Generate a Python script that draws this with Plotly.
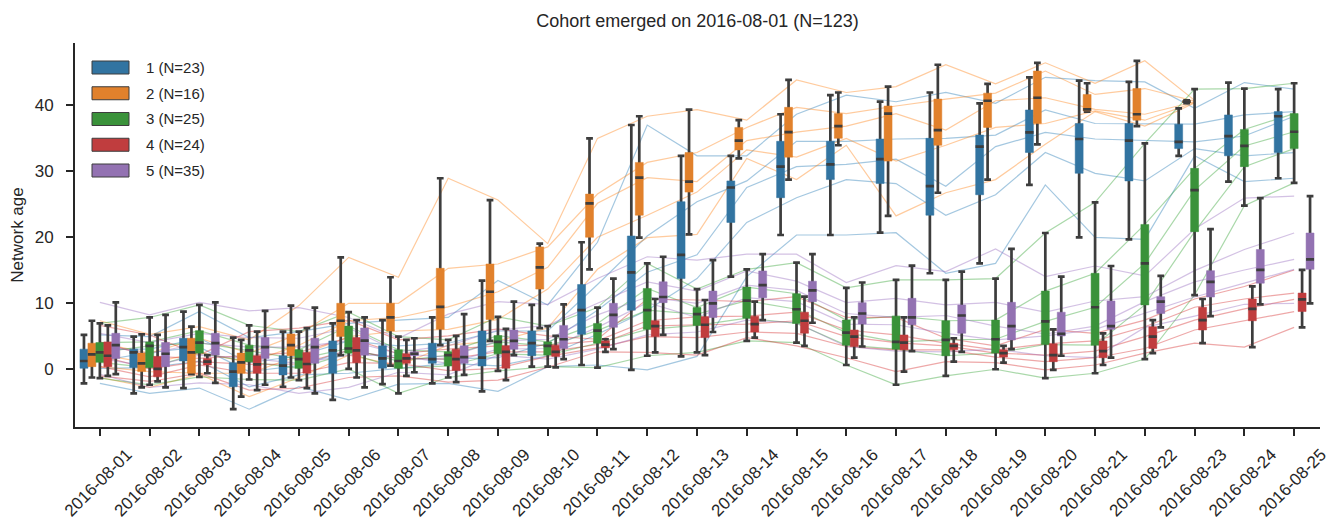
import plotly.graph_objects as go

# ---------------- data ----------------
dates = ["2016-08-01", "2016-08-02", "2016-08-03", "2016-08-04", "2016-08-05",
         "2016-08-06", "2016-08-07", "2016-08-08", "2016-08-09", "2016-08-10",
         "2016-08-11", "2016-08-12", "2016-08-13", "2016-08-14", "2016-08-15",
         "2016-08-16", "2016-08-17", "2016-08-18", "2016-08-19", "2016-08-20",
         "2016-08-21", "2016-08-22", "2016-08-23", "2016-08-24", "2016-08-25"]

group_names = ["1 (N=23)", "2 (N=16)", "3 (N=25)", "4 (N=24)", "5 (N=35)"]

# group 1
g1_low = [-2.2, -3.7, -2.9, -6.1, -2.7, -4.7, -2.3, -2.2, -3.4, 0.35, 0.6, -0.15, 1.9, 14.0, 20.3, 20.3, 20.65, 14.5, 16.0, 27.9, 19.95, 19.65, 32.3, 28.4, 28.9]
g1_q1 = [0.1, 0.2, 1.2, -2.7, -0.9, -0.65, 0.1, 0.85, 0.45, 2.0, 5.25, 8.9, 13.7, 22.2, 25.95, 28.7, 28.1, 23.3, 26.4, 32.8, 29.65, 28.5, 33.4, 32.3, 32.8]
g1_med = [1.2, 2.5, 3.3, -0.4, 0.5, 2.8, 1.6, 1.5, 1.7, 3.9, 8.9, 14.65, 17.3, 27.5, 30.65, 31.0, 31.8, 27.7, 33.7, 35.85, 34.85, 34.6, 34.4, 35.3, 38.3]
g1_q3 = [3.0, 3.0, 4.65, 0.95, 2.0, 4.25, 3.5, 3.9, 5.75, 5.75, 12.8, 20.15, 25.35, 28.5, 34.5, 34.5, 34.85, 34.95, 35.45, 39.25, 37.2, 37.2, 37.1, 38.5, 39.0]
g1_high = [5.15, 4.9, 8.7, 4.75, 5.65, 6.9, 7.4, 7.8, 13.4, 9.7, 19.2, 36.97, 32.3, 32.3, 38.6, 41.5, 40.5, 41.9, 40.25, 44.2, 43.7, 43.5, 39.5, 43.4, 42.4]

# group 2
g2_low = [-1.3, -2.8, -0.8, -4.2, -1.3, 2.1, 0.5, 3.6, 4.25, 6.2, 15.1, 19.9, 20.4, 31.9, 28.7, 33.9, 23.2, 26.7, 28.7, 34.05, 39.0, 36.8, 40.3, None, None]
g2_q1 = [0.35, -0.4, -0.65, -0.65, 2.0, 4.9, 5.75, 6.0, 7.5, 12.1, 19.95, 23.3, 26.8, 33.2, 32.1, 34.95, 31.5, 33.9, 36.6, 37.2, 39.1, 37.7, 40.4, None, None]
g2_med = [2.2, 0.85, 2.5, 1.0, 3.6, 7.3, 7.8, 9.4, 11.7, 15.4, 25.1, 29.0, 28.4, 34.6, 35.9, 36.8, 38.7, 36.2, 40.65, 41.1, 39.35, 38.6, 40.5, None, None]
g2_q3 = [3.9, 2.4, 4.65, 2.4, 5.3, 9.95, 9.95, 15.25, 15.9, 18.5, 26.5, 31.3, 32.8, 36.6, 39.65, 38.7, 39.85, 40.9, 41.8, 45.15, 41.6, 42.5, 40.6, None, None]
g2_high = [7.3, 5.25, 6.4, 4.4, 9.6, 16.9, 13.9, 28.9, 25.6, 19.0, 34.95, 38.3, 39.3, 37.7, 43.8, 41.9, 42.8, 46.1, 43.2, 46.4, 43.3, 46.7, 40.7, None, None]

# group 3
g3_low = [-1.4, -2.4, -1.2, -1.6, -1.7, 0.0, -3.7, -1.3, -0.3, 0.35, 0.2, 2.0, 2.5, 4.25, 4.0, 0.6, -2.4, -1.06, -0.05, -1.4, -0.65, 1.5, 11.2, 24.75, 28.2]
g3_q1 = [1.0, 0.2, 2.4, 1.1, 0.1, 2.4, 0.1, 0.45, 2.3, 2.1, 3.9, 6.0, 6.6, 7.7, 6.9, 3.6, 3.0, 2.0, 2.4, 3.7, 3.6, 9.7, 20.8, 30.65, 33.4]
g3_med = [2.5, 3.5, 4.0, 2.8, 1.5, 3.1, 1.2, 2.1, 4.1, 3.5, 5.8, 8.9, 8.3, 10.35, 9.05, 5.5, 4.1, 4.4, 4.5, 7.2, 9.35, 16.0, 27.1, 33.8, 35.95]
g3_q3 = [4.0, 4.1, 5.8, 3.6, 2.9, 6.5, 2.9, 2.6, 5.05, 4.1, 6.9, 12.2, 9.3, 12.4, 11.4, 7.4, 8.0, 7.3, 7.4, 11.8, 14.5, 21.9, 30.4, 36.3, 38.7]
g3_high = [6.9, 7.8, 9.7, 6.6, 5.65, 8.6, 4.9, 4.4, 7.9, 6.5, 9.3, 16.0, 12.1, 15.1, 16.1, 12.3, 13.5, 13.5, 13.7, 20.6, 25.25, 34.2, 42.4, 42.5, 43.3]

# group 4
g4_low = [-1.06, -1.9, -0.65, -3.2, -2.9, -1.3, -1.06, -2.0, -1.7, 0.25, 2.6, 2.5, 2.1, 4.75, 3.5, 1.7, -0.4, 1.1, 0.95, -0.15, 0.6, 2.4, 3.9, 3.3, 6.3]
g4_q1 = [0.35, -1.2, 0.6, -0.65, -0.65, 0.95, 0.85, -0.25, 0.1, 1.9, 3.2, 4.9, 4.75, 5.6, 5.4, 3.4, 2.9, 2.9, 1.8, 1.1, 1.7, 3.1, 5.9, 7.3, 8.7]
g4_med = [2.0, 0.0, 1.1, 0.7, 0.75, 2.8, 1.6, 1.5, 2.6, 2.6, 3.7, 6.5, 6.7, 6.8, 7.3, 4.9, 4.0, 3.5, 2.4, 2.1, 2.7, 4.9, 7.4, 9.1, 10.55]
g4_q3 = [4.1, 1.9, 1.6, 2.0, 2.5, 4.75, 2.3, 3.0, 3.5, 3.6, 4.25, 7.3, 7.9, 8.0, 8.6, 5.9, 5.15, 3.9, 2.9, 3.8, 4.25, 6.4, 9.35, 10.6, 11.5]
g4_high = [6.6, 5.15, 2.1, 5.65, 6.2, 7.4, 4.4, 5.0, 6.06, 5.0, 4.5, 10.6, 10.45, 10.2, 10.95, 7.8, 7.8, 4.65, 3.5, 6.0, 5.4, 7.4, 10.6, 12.5, 15.0]

# group 5
g5_low = [-0.8, -2.8, -2.1, -2.4, -3.7, -2.8, -0.5, -0.9, 2.1, 1.5, 3.0, 5.15, 5.6, 7.4, 7.0, 3.4, 2.7, 2.6, 3.0, 2.0, 1.7, 6.3, 8.0, 9.8, 9.95]
g5_q1 = [1.6, 0.35, 2.1, 1.6, 0.85, 2.1, 2.0, 0.85, 3.0, 3.1, 6.3, 10.05, 7.8, 10.8, 10.2, 6.8, 6.7, 5.4, 4.4, 5.0, 6.0, 8.4, 10.9, 13.0, 15.1]
g5_med = [3.6, 2.3, 3.9, 3.3, 3.3, 4.3, 2.3, 1.8, 4.25, 4.5, 8.2, 10.9, 9.95, 12.7, 11.9, 8.4, 7.8, 8.1, 6.5, 5.3, 6.5, 10.2, 13.2, 15.0, 16.6]
g5_q3 = [5.4, 4.0, 5.4, 4.75, 4.65, 6.2, 2.6, 3.5, 5.9, 6.6, 9.95, 13.2, 11.8, 14.85, 13.3, 10.05, 10.7, 9.7, 10.1, 8.6, 10.3, 10.95, 14.9, 18.1, 20.6]
g5_high = [10.1, 8.2, 10.1, 8.8, 9.3, 7.8, 4.65, 8.3, 10.2, 9.8, 13.7, 17.0, 16.5, 17.4, 17.4, 13.1, 15.65, 14.75, 18.2, 14.0, 15.6, 14.1, 21.2, 25.9, 26.2]

groups = [
    (g1_low, g1_q1, g1_med, g1_q3, g1_high),
    (g2_low, g2_q1, g2_med, g2_q3, g2_high),
    (g3_low, g3_q1, g3_med, g3_q3, g3_high),
    (g4_low, g4_q1, g4_med, g4_q3, g4_high),
    (g5_low, g5_q1, g5_med, g5_q3, g5_high),
]

# ---------------- style ----------------
box_colors = ["#3274a1", "#e1812c", "#3a923a", "#c03d3e", "#9372b2"]
line_colors = ["#1f77b4", "#ff7f0e", "#2ca02c", "#d62728", "#9467bd"]
DARK = "#3d3d3d"
TEXT = "#262626"
FONT = "Liberation Sans, Arial, sans-serif"

# the page body adds an 8 px offset; size the figure so it fills the window
OFF = 8
W, H = 1343 - OFF, 525 - OFF
L, R, T, B = 75 - OFF, 23, 43 - OFF, 98
YR = [-8.8, 49.4]
XR = [-0.5, 24.52]

fig = go.Figure()

# background trajectories (drawn on base axes, below the boxes)
for k, stats in enumerate(groups):
    for s in stats:
        fig.add_trace(go.Scatter(
            x=dates, y=s, mode="lines",
            line=dict(color=line_colors[k], width=1.2),
            opacity=0.4, showlegend=False, hoverinfo="skip",
            xaxis="x", yaxis="y"))

# boxes (on overlaid axes so they sit above the lines)
for k, (lo, a, m, b, hi) in enumerate(groups):
    idx = [i for i in range(len(dates)) if m[i] is not None]
    xs = [dates[i] for i in idx]
    lo_ = [lo[i] for i in idx]
    a_ = [a[i] for i in idx]
    m_ = [m[i] for i in idx]
    b_ = [b[i] for i in idx]
    hi_ = [hi[i] for i in idx]
    common = dict(x=xs, xaxis="x2", yaxis="y2", offsetgroup=str(k),
                  alignmentgroup="g", showlegend=False, hoverinfo="skip",
                  boxpoints=False)
    # whiskers + caps
    fig.add_trace(go.Box(q1=m_, median=m_, q3=m_, lowerfence=lo_, upperfence=hi_,
                         line=dict(color=DARK, width=2.7), fillcolor=DARK,
                         whiskerwidth=0.85, **common))
    # coloured box body
    fig.add_trace(go.Box(q1=a_, median=a_, q3=b_, lowerfence=a_, upperfence=b_,
                         line=dict(color=box_colors[k], width=0.5),
                         fillcolor=box_colors[k], whiskerwidth=0, **common))
    # median bar
    fig.add_trace(go.Box(q1=m_, median=m_, q3=m_, lowerfence=m_, upperfence=m_,
                         line=dict(color=DARK, width=2.7), fillcolor=DARK,
                         whiskerwidth=0, **common))

# manual legend (wide patches like the reference); positions in window pixels
pw = W - L - R
ph = H - T - B
def px_x(v):
    return (v - OFF - L) / pw
def px_y(v):
    return (H - B - (v - OFF)) / ph

LEG_X0, LEG_X1, LEG_TX = 92, 129, 144
LEG_Y0, LEG_DY, LEG_H = 67.5, 25.75, 13
shapes, annotations = [], []
for k, name in enumerate(group_names):
    cy = LEG_Y0 + k * LEG_DY
    shapes.append(dict(type="rect", xref="paper", yref="paper",
                       x0=px_x(LEG_X0), x1=px_x(LEG_X1),
                       y0=px_y(cy + LEG_H / 2), y1=px_y(cy - LEG_H / 2),
                       fillcolor=box_colors[k], line=dict(color=DARK, width=1)))
    annotations.append(dict(text=name, xref="paper", yref="paper",
                            x=px_x(LEG_TX), y=px_y(cy), xanchor="left", yanchor="middle",
                            showarrow=False, font=dict(size=15, color=TEXT, family=FONT)))

axis_common = dict(showline=True, linecolor=TEXT, linewidth=2, ticks="outside",
                   ticklen=7, tickwidth=1.6, tickcolor=TEXT, showgrid=False,
                   zeroline=False, automargin=False)

fig.update_layout(
    width=W, height=H,
    margin=dict(l=L, r=R, t=T, b=B, autoexpand=False),
    paper_bgcolor="white", plot_bgcolor="white",
    boxmode="group", boxgap=0.2, boxgroupgap=0.0,
    font=dict(family=FONT, color=TEXT, size=17),
    title=dict(text="Cohort emerged on 2016-08-01 (N=123)", x=0.5, xref="paper",
               xanchor="center", y=1 - 13 / H, yref="container", yanchor="middle",
               font=dict(size=18, color=TEXT, family=FONT)),
    xaxis=dict(type="category", categoryorder="array", categoryarray=dates,
               range=XR, tickangle=-45, ticklabelshift=27, ticklabelstandoff=2,
               tickfont=dict(size=17), **axis_common),
    yaxis=dict(range=YR, tickvals=[0, 10, 20, 30, 40], ticklabelstandoff=9,
               tickfont=dict(size=17),
               title=dict(text="Network age", standoff=12, font=dict(size=17)),
               **axis_common),
    xaxis2=dict(type="category", categoryorder="array", categoryarray=dates,
                range=XR, overlaying="x", visible=False),
    yaxis2=dict(range=YR, overlaying="y", visible=False),
    shapes=shapes, annotations=annotations,
)

fig.write_html("out.html")
